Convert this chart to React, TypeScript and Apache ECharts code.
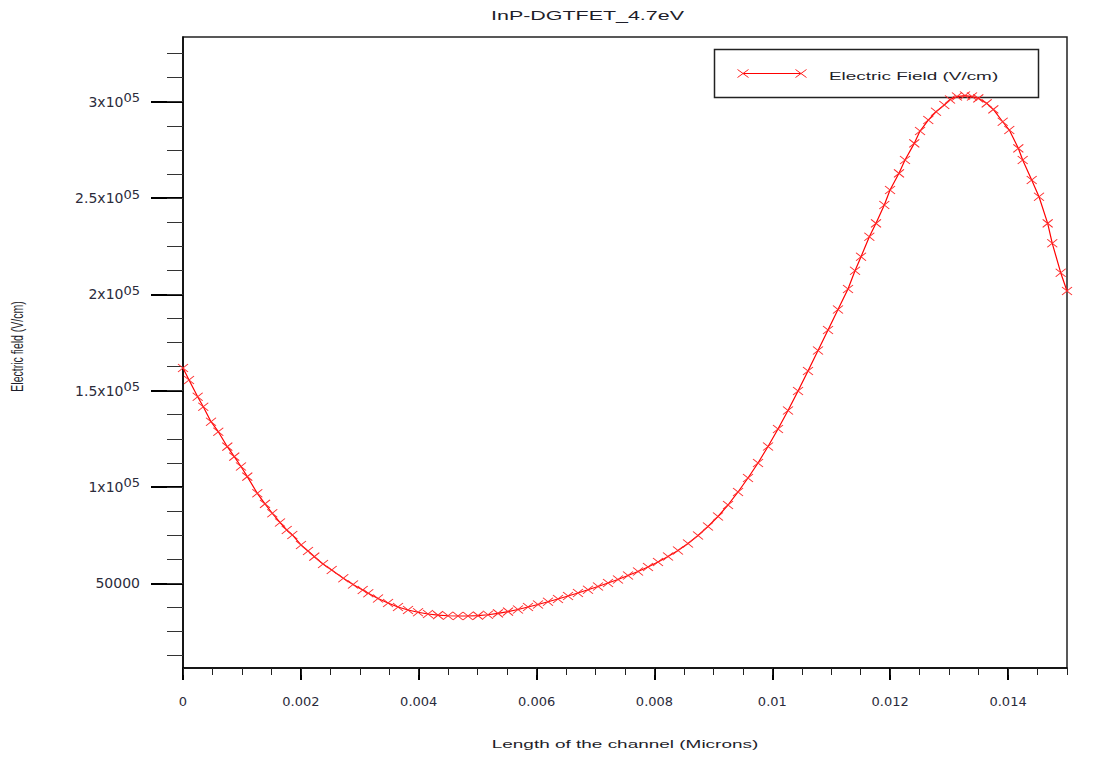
import React, { useEffect, useRef } from "react";
import * as echarts from "echarts";

const TITLE = "InP-DGTFET_4.7eV";
const X_NAME = "Length of the channel (Microns)";
const Y_NAME = "Electric field (V/cm)";
const SERIES_NAME = "Electric Field (V/cm)";

const xTickValues = [0, 0.002, 0.004, 0.006, 0.008, 0.01, 0.012, 0.014];
const xTickLabels = ["0", "0.002", "0.004", "0.006", "0.008", "0.01", "0.012", "0.014"];
const yTickValues = [50000, 100000, 150000, 200000, 250000, 300000];
const yLabelBase = ["50000", "1x10", "1.5x10", "2x10", "2.5x10", "3x10"];
const yLabelSup = ["", "05", "05", "05", "05", "05"];

const channelPos = [
  0, 0.000102, 0.000249, 0.000344, 0.000475, 0.000599, 0.000752, 0.00087, 0.000984, 0.001091,
  0.001261, 0.001391, 0.001515, 0.001646, 0.00176, 0.001855, 0.002002, 0.002121, 0.002228, 0.002376,
  0.002523, 0.00272, 0.002885, 0.003049, 0.003144, 0.003309, 0.003479, 0.003648, 0.003818, 0.003988,
  0.004157, 0.004327, 0.004497, 0.004666, 0.004836, 0.005006, 0.005175, 0.005345, 0.005515, 0.005684,
  0.005854, 0.006024, 0.006193, 0.006363, 0.006533, 0.006702, 0.006872, 0.007042, 0.007212, 0.007381,
  0.007551, 0.007721, 0.00789, 0.00806, 0.00823, 0.008399, 0.008569, 0.008739, 0.008908, 0.009078,
  0.009248, 0.009418, 0.009587, 0.009757, 0.009927, 0.010096, 0.010266, 0.010436, 0.010605, 0.010775,
  0.010945, 0.011114, 0.011284, 0.011403, 0.011505, 0.011646, 0.011759, 0.0119, 0.011997, 0.012149,
  0.012251, 0.012409, 0.012506, 0.012646, 0.012777, 0.012918, 0.013015, 0.013133, 0.013269, 0.013388,
  0.013495, 0.013637, 0.01375, 0.013909, 0.014021, 0.014174, 0.014248, 0.014401, 0.014525, 0.014672,
  0.01475, 0.014893, 0.015,
];

const electricField = [
  161750, 155520, 146850, 141660, 133870, 128680, 120900, 115710, 110620, 105330,
  96710, 91200, 86330, 81550, 77660, 75070, 69880, 66760, 63800, 60010,
  56890, 52580, 49370, 46510, 44800, 42100, 39760, 37690, 36130, 34940,
  34050, 33430, 33120, 33010, 33010, 33170, 33640, 34360, 35300, 36390,
  37690, 38980, 40390, 41840, 43400, 44950, 46620, 48330, 50150, 51960,
  54040, 56110, 58450, 61050, 63900, 67020, 70650, 74800, 79470, 84660,
  90630, 97380, 104650, 112440, 121000, 130090, 139690, 149810, 160190, 170840,
  181480, 192120, 202760, 212260, 219530, 229910, 236870, 246370, 254150, 262820,
  269720, 278390, 284780, 290480, 294800, 298280, 301130, 302690, 303210, 302690,
  301750, 299160, 296040, 289600, 285300, 275800, 269720, 259340, 250670, 236870,
  226490, 211230, 201720,
];

const X_MIN = 0;
const X_MAX = 0.015;
const Y_MIN = 6000;
const Y_MAX = 333600;

function minorTicks(step: number, from: number, to: number): number[] {
  const out: number[] = [];
  for (let k = Math.ceil(from / step); k * step <= to + 1e-12; k++) {
    out.push(Number((k * step).toFixed(6)));
  }
  return out;
}

const X_MARK = "path://M0,0L10,10M10,0L0,10";
const LABEL_COLOR = "#2b2b3b";

export default function App() {
  const ref = useRef<HTMLDivElement>(null);

  useEffect(() => {
    if (!ref.current) return;
    const chart = echarts.init(ref.current, null, { renderer: "svg" });

    const xMinor = minorTicks(0.0005, X_MIN, X_MAX);
    const yMinor = minorTicks(12500, Y_MIN, Y_MAX);

    const cross = (cx: number, cy: number) => [
      {
        type: "line",
        shape: { x1: cx - 5.5, y1: cy - 4, x2: cx + 5.5, y2: cy + 4 },
        style: { stroke: "#ff2020", lineWidth: 1 },
      },
      {
        type: "line",
        shape: { x1: cx - 5.5, y1: cy + 4, x2: cx + 5.5, y2: cy - 4 },
        style: { stroke: "#ff2020", lineWidth: 1 },
      },
    ];

    chart.setOption({
      animation: false,
      backgroundColor: "#ffffff",
      grid: {
        left: 183,
        top: 37,
        right: 40,
        bottom: 90,
        show: true,
        borderColor: "#222",
        borderWidth: 1.5,
        backgroundColor: "transparent",
      },
      xAxis: [
        {
          type: "value",
          min: X_MIN,
          max: X_MAX,
          position: "bottom",
          axisLine: { show: true, onZero: false, lineStyle: { color: "#000", width: 1.5 } },
          axisTick: {
            show: true,
            length: 12,
            customValues: xTickValues,
            lineStyle: { color: "#000", width: 2 },
          },
          axisLabel: {
            show: true,
            customValues: xTickValues,
            margin: 27,
            color: LABEL_COLOR,
            fontFamily: "DejaVu Sans",
            fontSize: 13,
            formatter: (v: number) => {
              const i = xTickValues.indexOf(v);
              return i >= 0 ? xTickLabels[i] : "";
            },
          },
          splitLine: { show: false },
        },
        {
          type: "value",
          min: X_MIN,
          max: X_MAX,
          position: "bottom",
          axisLine: { show: false, onZero: false },
          axisTick: {
            show: true,
            length: 7,
            customValues: xMinor,
            lineStyle: { color: "#222", width: 1 },
          },
          axisLabel: { show: false },
          splitLine: { show: false },
        },
      ],
      yAxis: [
        {
          type: "value",
          min: Y_MIN,
          max: Y_MAX,
          position: "left",
          axisLine: { show: true, onZero: false, lineStyle: { color: "#000", width: 1.5 } },
          axisTick: {
            show: true,
            length: 32,
            customValues: yTickValues,
            lineStyle: { color: "#000", width: 2 },
          },
          axisLabel: {
            show: true,
            customValues: yTickValues,
            margin: 43,
            color: LABEL_COLOR,
            fontFamily: "DejaVu Sans",
            fontSize: 14,
            formatter: (v: number) => {
              const i = yTickValues.indexOf(v);
              if (i < 0) return "";
              return yLabelSup[i]
                ? `{b|${yLabelBase[i]}}{s|${yLabelSup[i]}}`
                : `{b|${yLabelBase[i]}}`;
            },
            rich: {
              b: { fontFamily: "DejaVu Sans", fontSize: 14, color: LABEL_COLOR },
              s: {
                fontFamily: "DejaVu Sans",
                fontSize: 13,
                color: LABEL_COLOR,
                padding: [0, 0, 8, 0],
              },
            },
          },
          splitLine: { show: false },
        },
        {
          type: "value",
          min: Y_MIN,
          max: Y_MAX,
          position: "left",
          axisLine: { show: false, onZero: false },
          axisTick: {
            show: true,
            length: 16,
            customValues: yMinor,
            lineStyle: { color: "#333", width: 1 },
          },
          axisLabel: { show: false },
          splitLine: { show: false },
        },
      ],
      series: [
        {
          name: SERIES_NAME,
          type: "line",
          xAxisIndex: 0,
          yAxisIndex: 0,
          data: channelPos.map((x, i) => [x, electricField[i]]),
          symbol: X_MARK,
          symbolSize: [10, 8],
          showSymbol: true,
          showAllSymbol: true,
          lineStyle: { color: "#ff0000", width: 1.2 },
          itemStyle: { color: "#ff0000", borderColor: "#ff2a2a", borderWidth: 1 },
          emphasis: { disabled: true },
          silent: true,
          clip: false,
          z: 3,
        },
      ],
      graphic: [
        {
          type: "text",
          x: 587.5,
          y: 15.5,
          scaleX: 1.65,
          style: {
            text: TITLE,
            fontFamily: "Liberation Sans",
            fontSize: 13,
            fill: "#1e1e2a",
            align: "center",
            textAlign: "center",
            verticalAlign: "middle",
            textVerticalAlign: "middle",
          },
        },
        {
          type: "text",
          x: 625,
          y: 743.5,
          scaleX: 1.65,
          style: {
            text: X_NAME,
            fontFamily: "Liberation Sans",
            fontSize: 11.5,
            fill: "#1e1e2a",
            align: "center",
            textAlign: "center",
            verticalAlign: "middle",
            textVerticalAlign: "middle",
          },
        },
        {
          type: "text",
          x: 18,
          y: 346.5,
          rotation: Math.PI / 2,
          scaleY: 1.55,
          style: {
            text: Y_NAME,
            fontFamily: "Liberation Sans",
            fontSize: 10.5,
            fill: "#1e1e2a",
            align: "center",
            textAlign: "center",
            verticalAlign: "middle",
            textVerticalAlign: "middle",
          },
        },
        {
          type: "group",
          z: 10,
          children: [
            {
              type: "rect",
              shape: { x: 714.5, y: 49.5, width: 324, height: 48 },
              style: { fill: "#ffffff", stroke: "#222", lineWidth: 1.5 },
            },
            {
              type: "line",
              shape: { x1: 743, y1: 73.5, x2: 801, y2: 73.5 },
              style: { stroke: "#ff0000", lineWidth: 1 },
            },
            ...cross(743, 73.5),
            ...cross(801, 73.5),
            {
              type: "text",
              x: 829,
              y: 76.5,
              scaleX: 1.72,
              style: {
                text: SERIES_NAME,
                fontFamily: "Liberation Sans",
                fontSize: 11,
                fill: "#1e1e2a",
                align: "left",
                textAlign: "left",
                verticalAlign: "middle",
                textVerticalAlign: "middle",
              },
            },
          ],
        },
      ],
    });

    return () => {
      chart.dispose();
    };
  }, []);

  return (
    <div
      style={{
        position: "fixed",
        left: 0,
        top: 0,
        width: 1107,
        height: 758,
        background: "#fff",
      }}
    >
      <div ref={ref} style={{ width: 1107, height: 758 }} />
    </div>
  );
}
